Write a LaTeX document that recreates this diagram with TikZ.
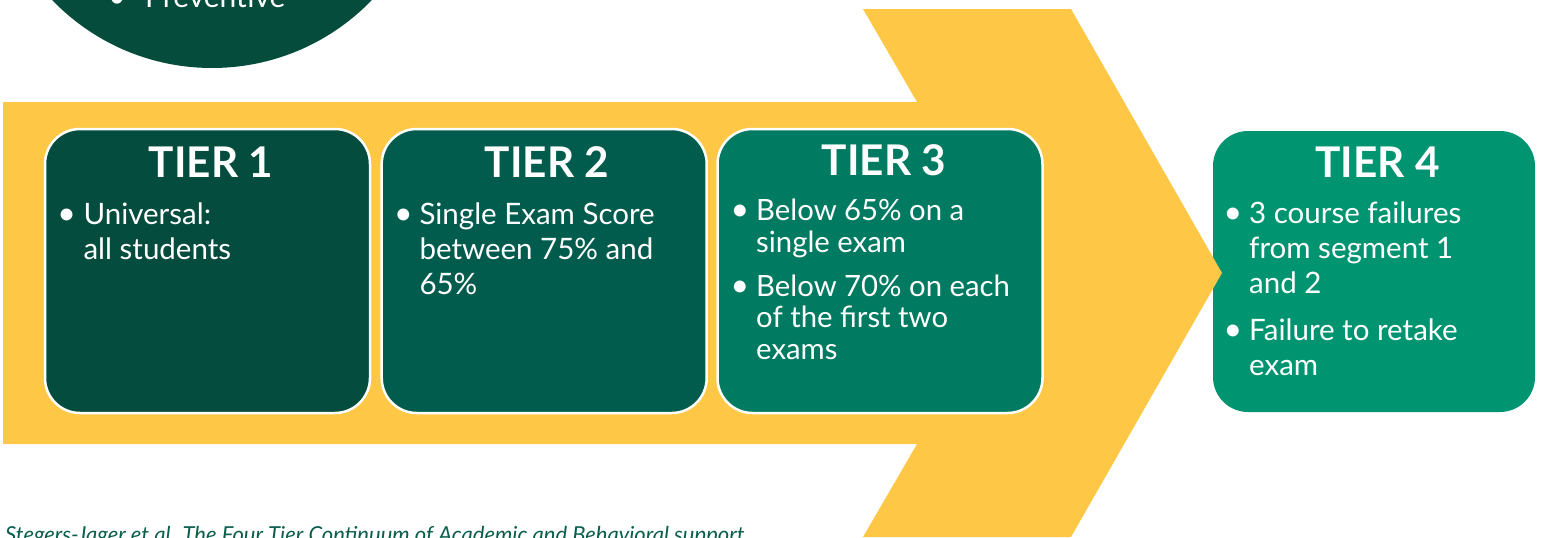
\documentclass[tikz,border=0pt]{standalone}
\usepackage{fontspec}
\setmainfont{Lato}
\definecolor{ylw}{HTML}{FEC745}
\definecolor{circg}{HTML}{054C3C}
\definecolor{tA}{HTML}{044C3D}
\definecolor{tB}{HTML}{025C4E}
\definecolor{tC}{HTML}{007A60}
\definecolor{tD}{HTML}{009470}
\definecolor{notec}{HTML}{0B5E4B}
\tikzset{
  tierbox/.style={rectangle, rounded corners=35pt, minimum width=325pt, minimum height=284pt, inner sep=0pt},
  rimmed/.style={draw=white, line width=2.5pt},
  ttl/.style={anchor=base, inner sep=0pt, text=white, font=\fontsize{42.3}{50}\selectfont\bfseries},
  bul/.style={anchor=base, inner sep=0pt, text=white, font=\fontsize{32}{35}\selectfont},
  itm/.style={anchor=base west, inner sep=0pt, text=white},
}
\newcommand{\itmtext}[1]{\parbox[t]{300pt}{\raggedright\fontsize{29.5}{35}\selectfont #1}}
\newcommand{\itmtextsm}[1]{\parbox[t]{300pt}{\raggedright\fontsize{29.3}{31.5}\selectfont #1}}
\begin{document}
\begin{tikzpicture}[x=1pt,y=-1pt]
\useasboundingbox (0,0) rectangle (1551,538);
\clip (0,0) rectangle (1551,538);
% circle top-left
\node[circle, fill=circg, minimum size=444pt, inner sep=0pt] (circ) at (212,-154) {};
\node[bul, font=\fontsize{30}{36}\selectfont] (pbul) at (117,8) {•};
\node[itm, font=\fontsize{30}{36}\selectfont] (prev) at (145,8) {Preventive};
% tier 4 box (behind arrow tip)
\node[tierbox, fill=tD, minimum width=322pt, minimum height=281pt] (t4) at (1374,271.5) {};
% yellow arrow
\fill[ylw] (3,102) -- (917,102) -- (863,9) -- (1071,9) -- (1222,273) -- (1071,537) -- (863,537) -- (917,444) -- (3,444) -- cycle;
% tier boxes
\node[tierbox, rimmed, fill=tA] (t1) at (207.5,271) {};
\node[tierbox, rimmed, fill=tB] (t2) at (544.2,271) {};
\node[tierbox, rimmed, fill=tC] (t3) at (880,271) {};
% titles
\node[ttl] (t1h) at (211,177) {TIER 1};
\node[ttl] (t2h) at (547,177) {TIER 2};
\node[ttl] (t3h) at (884,175) {TIER 3};
\node[ttl] (t4h) at (1377.5,177) {TIER 4};
% tier 1
\node[bul] (b11) at (66.7,224) {•};
\node[itm] (i11) at (83.3,224) {\itmtext{Universal:\\all students}};
% tier 2
\node[bul] (b21) at (403.3,224) {•};
\node[itm] (i21) at (419.3,224) {\itmtext{Single Exam Score\\between 75\% and\\65\%}};
% tier 3
\node[bul] (b31) at (740,220.7) {•};
\node[itm] (i31) at (756,220.7) {\itmtextsm{Below 65\% on a\\single exam}};
\node[bul] (b32) at (740,296) {•};
\node[itm] (i32) at (756,296) {\itmtextsm{Below 70\% on each\\of the first two\\exams}};
% tier 4
\node[bul] (b41) at (1233,223.3) {•};
\node[itm] (i41) at (1249,223.3) {\itmtext{3 course failures\\from segment 1\\and 2}};
\node[bul] (b42) at (1233,340.7) {•};
\node[itm] (i42) at (1249,340.7) {\itmtext{Failure to retake\\exam}};
% footnote
\node[itm, text=notec, font=\fontsize{22}{26}\selectfont\itshape] (note) at (5,542.5) {Stegers-Jager et al. The Four Tier Continuum of Academic and Behavioral support};
\end{tikzpicture}
\end{document}
